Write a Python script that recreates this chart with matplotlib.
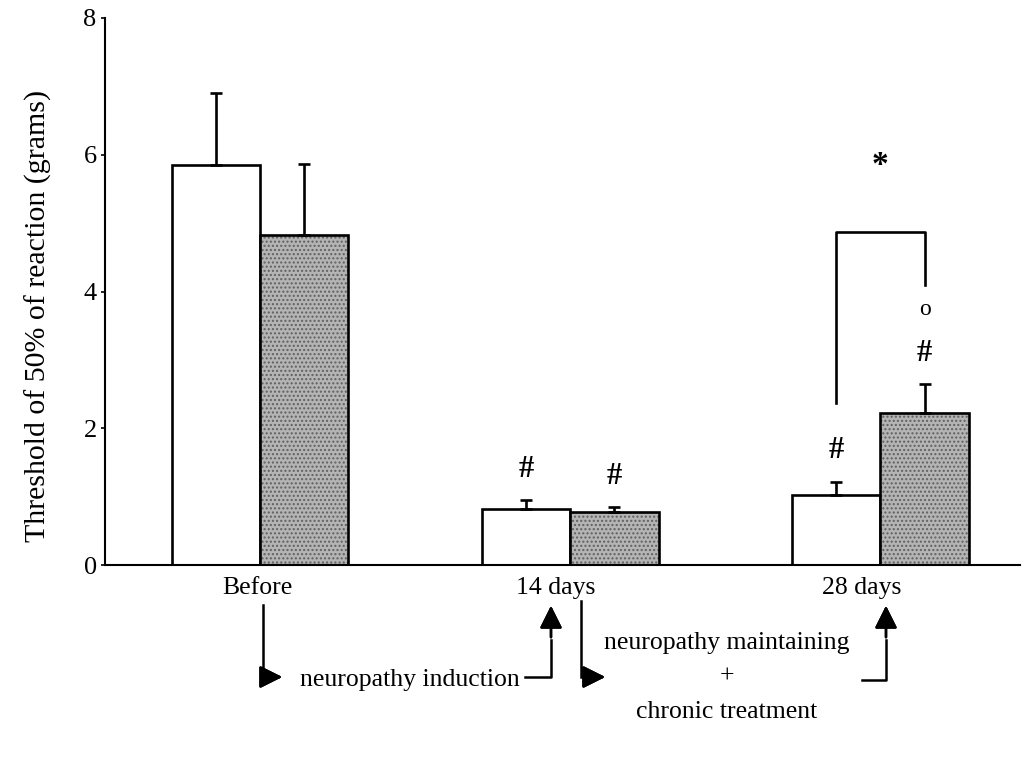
import numpy as np
import matplotlib.pyplot as plt
from matplotlib.lines import Line2D

plt.rcParams['font.family'] = ['Liberation Serif', 'DejaVu Serif']

# Threshold values (grams) per time point: control (white) and treated (grey)
groups = ['Before', '14 days', '28 days']
control_mean = [5.85, 0.82, 1.02]
control_sem = [1.05, 0.13, 0.20]
treated_mean = [4.83, 0.78, 2.22]
treated_sem = [1.03, 0.07, 0.42]
control_marks = ['', '#', '#']
treated_marks = ['', '#', '#']

W, H = 1031, 757
fig = plt.figure(figsize=(W / 100, H / 100), dpi=100)


def px(x, y):
    # pixel position -> figure fraction
    return x / W, 1 - y / H


ax = fig.add_axes([105 / W, 1 - 565 / H, 915 / W, 547 / H])

x = np.arange(len(groups))
width = 0.285

ax.bar(x - width / 2, control_mean, width, color='white', edgecolor='black', linewidth=1.9)
# stippled grey fill, then a plain black outline on top
ax.bar(x + width / 2, treated_mean, width, color='#b4b4b4', edgecolor='#606060',
       hatch='....', linewidth=0)
ax.bar(x + width / 2, treated_mean, width, fill=False, edgecolor='black', linewidth=1.9)

ax.errorbar(x - width / 2, control_mean, yerr=[np.zeros(3), control_sem], fmt='none',
            ecolor='black', elinewidth=1.9, capsize=4, capthick=1.9)
ax.errorbar(x + width / 2, treated_mean, yerr=[np.zeros(3), treated_sem], fmt='none',
            ecolor='black', elinewidth=1.9, capsize=4, capthick=1.9)

# significance marks above the error bars
for i in range(len(groups)):
    if control_marks[i]:
        ax.text(x[i] - width / 2, control_mean[i] + control_sem[i] + 0.45, control_marks[i],
                ha='center', va='center', fontsize=22, fontweight='bold')
    if treated_marks[i]:
        ax.text(x[i] + width / 2, treated_mean[i] + treated_sem[i] + 0.45, treated_marks[i],
                ha='center', va='center', fontsize=22, fontweight='bold')

# treated vs control at 28 days
top = 4.87
ax.plot([x[2] - width / 2, x[2] - width / 2, x[2] + width / 2, x[2] + width / 2],
        [2.37, top, top, 4.1], color='black', lw=1.9)
ax.text(x[2] + width / 2, treated_mean[2] + treated_sem[2] + 1.1, 'o',
        ha='center', va='center', fontsize=17)
ax.text(x[2], 5.85, '*', ha='center', va='center', fontsize=24, fontweight='bold')

ax.set_xlim(-0.5, 2.45)
ax.set_ylim(0, 8)
ax.set_yticks([0, 2, 4, 6, 8])
ax.set_xticks([])
ax.tick_params(axis='y', labelsize=19, length=3, width=1.2, pad=3)
for s in ['top', 'right']:
    ax.spines[s].set_visible(False)
for s in ['left', 'bottom']:
    ax.spines[s].set_linewidth(1.5)
ax.set_ylabel('Threshold of 50% of reaction (grams)', fontsize=21.5)
ax.yaxis.set_label_coords(-0.058, 0.455)

# group labels under the axis
for xp, lab in zip([257, 556, 862], groups):
    fig.text(*px(xp, 588), lab, ha='center', va='center', fontsize=18.5)

# timeline arrows
def path(pts):
    xs, ys = zip(*[px(a, b) for a, b in pts])
    fig.add_artist(Line2D(xs, ys, color='black', lw=1.8))


def head(start, end):
    fig.add_artist(plt.annotate('', xy=px(*end), xytext=px(*start), xycoords='figure fraction',
                                arrowprops=dict(arrowstyle='-|>', mutation_scale=34,
                                                color='black', lw=1.8)))


path([(263, 605), (263, 677)])
head((263, 677), (285, 677))
path([(525, 677), (551, 677), (551, 640)])
head((551, 640), (551, 603))
path([(581, 601), (581, 677)])
head((581, 677), (608, 677))
path([(862, 680), (886, 680), (886, 640)])
head((886, 640), (886, 603))

fig.text(*px(410, 680), 'neuropathy induction', ha='center', va='center', fontsize=18.5)
fig.text(*px(727, 643), 'neuropathy maintaining', ha='center', va='center', fontsize=18.5)
fig.text(*px(727, 677), '+', ha='center', va='center', fontsize=18.5)
fig.text(*px(727, 712), 'chronic treatment', ha='center', va='center', fontsize=18.5)

fig.savefig('out.png', dpi=100)
